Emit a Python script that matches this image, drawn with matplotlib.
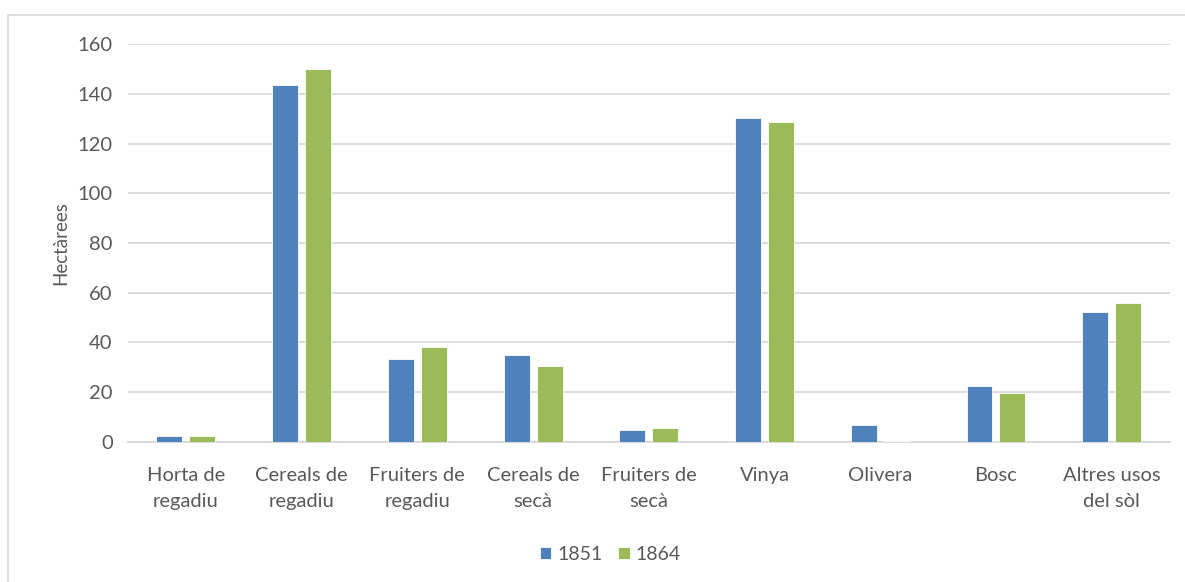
import matplotlib
matplotlib.use("Agg")
import matplotlib.pyplot as plt
import matplotlib.patches as patches
import numpy as np

# Data
categories = ["Horta de\nregadiu", "Cereals de\nregadiu", "Fruiters de\nregadiu",
              "Cereals de\nsecà", "Fruiters de\nsecà", "Vinya", "Olivera",
              "Bosc", "Altres usos\ndel sòl"]
vals_1851 = [2.4, 143.5, 33.4, 34.8, 4.8, 130.5, 6.6, 22.6, 52.3]
vals_1864 = [2.3, 150.0, 38.1, 30.6, 5.6, 128.8, 0.3, 19.8, 55.7]
series_names = ["1851", "1864"]
yticks = [0, 20, 40, 60, 80, 100, 120, 140, 160]

plt.rcParams['font.family'] = ['Lato', 'DejaVu Sans']
text_col = "#595959"

fig = plt.figure(figsize=(11.85, 5.82), dpi=100)
ax = fig.add_axes([0.108, 0.241, 0.879, 0.683])

# outer chart border
fig.patches.append(patches.Rectangle((8 / 1185, -0.01), 1.0, 1 - 15 / 582 + 0.01,
                                     transform=fig.transFigure, fill=False,
                                     edgecolor="#D9D9D9", linewidth=1.2))

x = np.arange(len(categories))
w = 0.2245
off = 0.285 / 2
ax.bar(x - off, vals_1851, w, color="#4F81BD", edgecolor="white", linewidth=0.6, label=series_names[0], zorder=3)
ax.bar(x + off, vals_1864, w, color="#9BBB59", edgecolor="white", linewidth=0.6, label=series_names[1], zorder=3)

ax.set_xlim(-0.5, len(categories) - 0.5)
ax.set_ylim(0, 160)
ax.set_yticks(yticks)
ax.set_xticks(x)
ax.set_xticklabels(categories, fontsize=14.5, color=text_col, linespacing=1.65)
ax.tick_params(axis='y', labelsize=14.5, labelcolor=text_col, length=0, pad=11)
ax.tick_params(axis='x', length=0, pad=18)
ax.grid(axis='y', color="#D9D9D9", linewidth=1.3, zorder=0)
for s in ["top", "right", "left"]:
    ax.spines[s].set_visible(False)
ax.spines["bottom"].set_color("#D9D9D9")
ax.spines["bottom"].set_linewidth(1.3)
ax.set_ylabel("Hectàrees", fontsize=13.5, color=text_col, labelpad=6)

fig.legend(loc="center", bbox_to_anchor=(0.515, 0.048), ncol=2, frameon=False,
           fontsize=14, labelcolor=text_col, handlelength=0.6, handleheight=0.6,
           handletextpad=0.3, columnspacing=0.8)

fig.savefig("out.png", dpi=100)
